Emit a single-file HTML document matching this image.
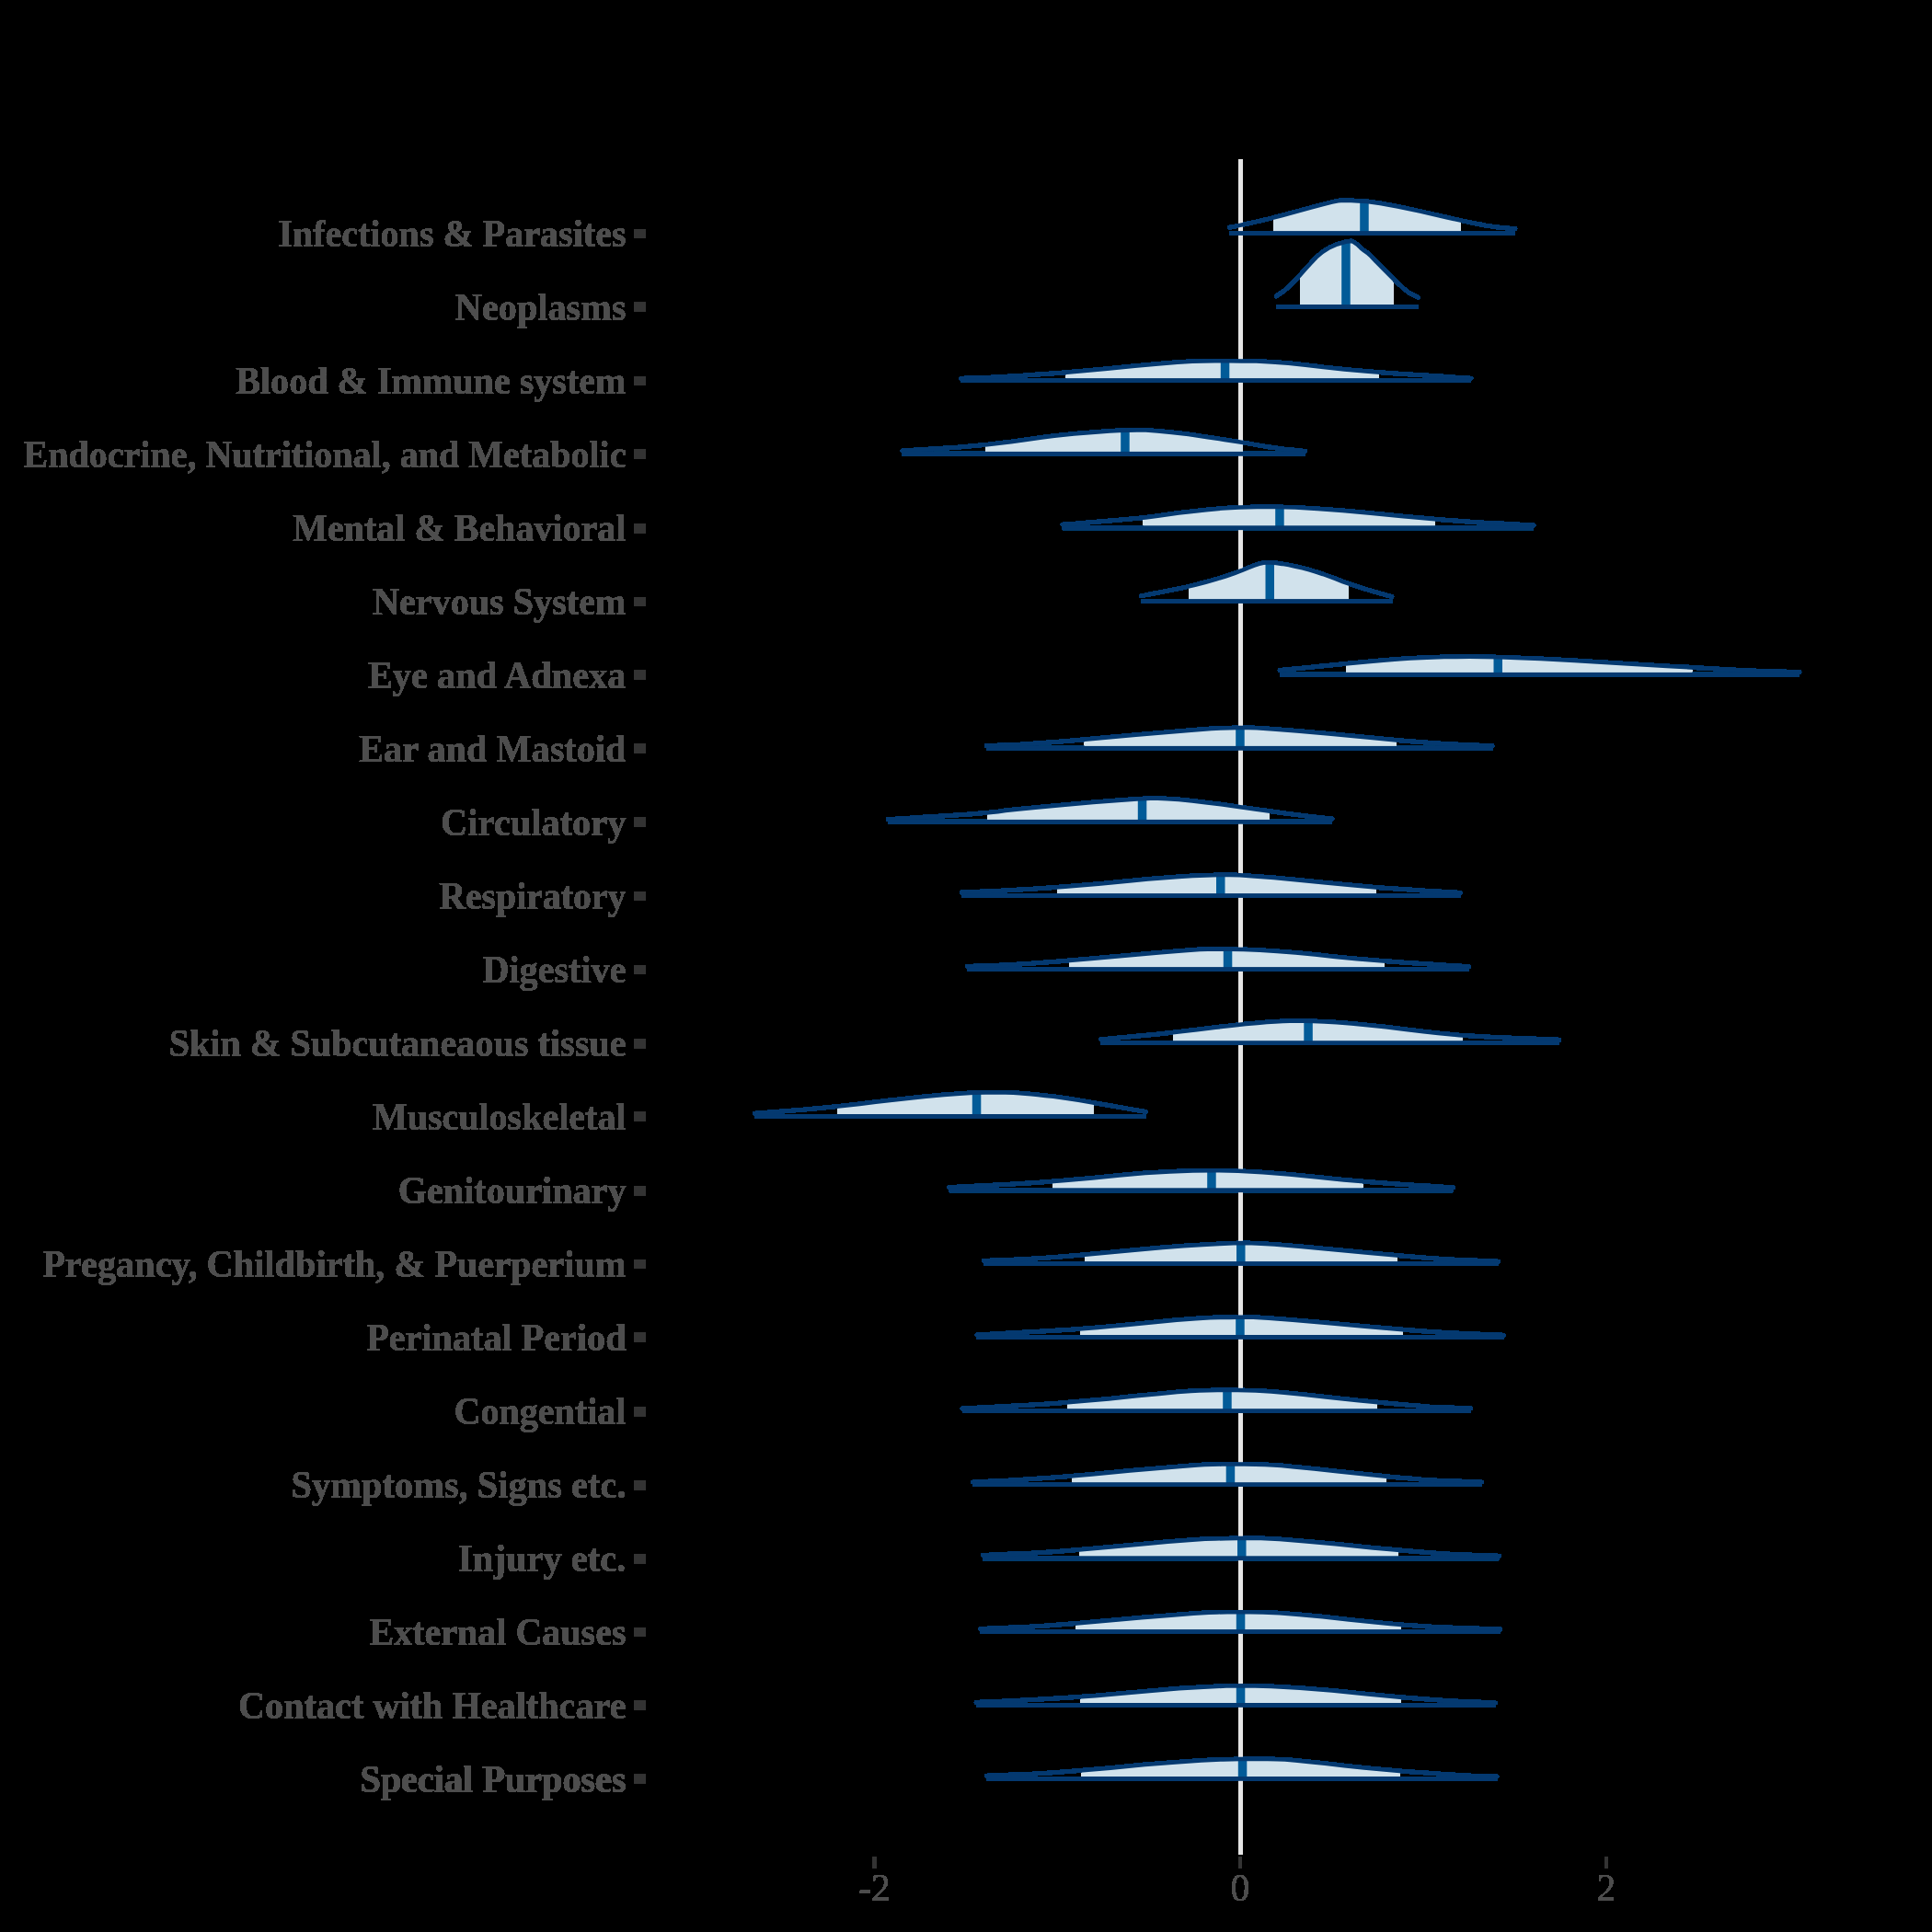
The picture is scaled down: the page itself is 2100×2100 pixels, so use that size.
<!DOCTYPE html>
<html><head><meta charset="utf-8"><style>
html,body{margin:0;padding:0;background:#000;}
svg{display:block;will-change:transform;}
.lab{font-family:"Liberation Serif",serif;font-weight:bold;font-size:41.67px;fill:#4d4d4d;}
.ax{font-family:"Liberation Serif",serif;font-size:41.67px;fill:#4d4d4d;}
</style></head><body>
<svg width="2100" height="2100" viewBox="0 0 2100 2100">
<defs><filter id="hard" x="0" y="0" width="2100" height="2100" filterUnits="userSpaceOnUse" color-interpolation-filters="sRGB"><feComponentTransfer><feFuncA type="discrete" tableValues="0 1 1 1 1 1 1 1 1 1 1 1 1 1 1 1"/></feComponentTransfer></filter></defs>
<rect width="2100" height="2100" fill="#000"/>
<g filter="url(#hard)">
<rect x="1346.1" y="173" width="4.8" height="1843" fill="#e5e5e5"/>
<polygon points="1384,236.6 1393.2,234.3 1408.5,230.2 1424.9,225.6 1438.1,222.1 1447.9,219.6 1454.4,218.3 1457.6,218 1462.4,217.9 1468.7,218.1 1476.5,218.4 1485.9,218.9 1500.2,221 1519.4,224.5 1543.5,229.6 1572.4,236.3 1588,239.6 1588,253.5 1384,253.5" fill="#d1e2ec"/>
<rect x="1478.2" y="218.7" width="9.5" height="34.8" fill="#025b98"/>
<polyline points="1336.4,247.3 1339.4,246.7 1345.3,245.4 1354.2,243.5 1366,240.9 1379,237.9 1393.2,234.3 1408.5,230.2 1424.9,225.6 1438.1,222.1 1447.9,219.6 1454.4,218.3 1457.6,218 1462.4,217.9 1468.7,218.1 1476.5,218.4 1485.9,218.9 1500.2,221 1519.4,224.5 1543.5,229.6 1572.4,236.3 1596.1,241.4 1614.5,245 1627.6,247.1 1635.3,247.8 1641.2,248.2 1645.1,248.5 1647,248.7" fill="none" stroke="#043970" stroke-width="4.5" stroke-linecap="round" stroke-linejoin="round"/>
<rect x="1336" y="251.1" width="311" height="4.8" fill="#043970"/>
<polygon points="1413,299 1418.1,293.2 1424.3,286.4 1430.7,279.6 1437.6,273.8 1445,269.1 1453.4,265.5 1462.7,262.8 1468.9,262 1471.8,263.3 1475.2,265.7 1479.1,269.4 1482.8,272.4 1486.3,274.9 1490.5,278.7 1495.4,283.9 1505.3,293.9 1514.1,302.7 1514.1,333.4 1413,333.4" fill="#d1e2ec"/>
<rect x="1458.2" y="262.7" width="9.5" height="70.7" fill="#025b98"/>
<polyline points="1387.2,321.9 1389.8,320.2 1394.9,316.7 1400.5,312.1 1406.3,306.1 1412.2,299.9 1418.1,293.2 1424.3,286.4 1430.7,279.6 1437.6,273.8 1445,269.1 1453.4,265.5 1462.7,262.8 1468.9,262 1471.8,263.3 1475.2,265.7 1479.1,269.4 1482.8,272.4 1486.3,274.9 1490.5,278.7 1495.4,283.9 1505.3,293.9 1520,308.6 1531,317.9 1538,321.5 1541.6,323.4" fill="none" stroke="#043970" stroke-width="4.5" stroke-linecap="round" stroke-linejoin="round"/>
<rect x="1387" y="331" width="155" height="4.8" fill="#043970"/>
<polygon points="1158.9,404.7 1176.2,403.2 1203.7,400.7 1233.6,397.8 1258.9,395.5 1279.7,393.8 1295.9,392.8 1307.5,392.5 1320.3,392.3 1334.3,392.2 1349.3,392.4 1365.6,392.6 1382.6,393.5 1400.4,394.8 1419,396.7 1438.4,399.1 1461.2,401.4 1487.3,403.7 1498.6,404.5 1498.6,413.5 1158.9,413.5" fill="#d1e2ec"/>
<rect x="1326.8" y="392.2" width="9.5" height="21.3" fill="#025b98"/>
<polyline points="1044.8,411.2 1046.8,411.2 1050.8,411.1 1056.7,410.9 1064.7,410.8 1075.8,410.3 1090,409.5 1107.5,408.5 1128,407.1 1150.9,405.4 1176.2,403.2 1203.7,400.7 1233.6,397.8 1258.9,395.5 1279.7,393.8 1295.9,392.8 1307.5,392.5 1320.3,392.3 1334.3,392.2 1349.3,392.4 1365.6,392.6 1382.6,393.5 1400.4,394.8 1419,396.7 1438.4,399.1 1461.2,401.4 1487.3,403.7 1516.8,405.9 1549.7,408 1574.3,409.6 1590.8,410.7 1599,411.2" fill="none" stroke="#043970" stroke-width="4.5" stroke-linecap="round" stroke-linejoin="round"/>
<rect x="1044.8" y="411.1" width="553.9" height="4.8" fill="#043970"/>
<polygon points="1071,483.5 1079.6,482.6 1098.7,480.3 1116.5,477.7 1132.3,475.5 1146,473.8 1157.8,472.4 1167.4,471.6 1177.2,470.7 1186.9,469.9 1196.6,469.2 1206.3,468.6 1216.1,468.1 1225.9,467.8 1235.7,467.6 1245.5,467.6 1258.2,468.4 1273.6,469.9 1291.8,472.1 1312.9,475.2 1331.1,477.9 1346.4,480.3 1350.9,481 1350.9,493.3 1071,493.3" fill="#d1e2ec"/>
<rect x="1218.2" y="467.9" width="9.5" height="25.4" fill="#025b98"/>
<polyline points="980.8,490 986.5,489.6 997.9,488.9 1015,487.8 1037.8,486.4 1059.4,484.6 1079.6,482.6 1098.7,480.3 1116.5,477.7 1132.3,475.5 1146,473.8 1157.8,472.4 1167.4,471.6 1177.2,470.7 1186.9,469.9 1196.6,469.2 1206.3,468.6 1216.1,468.1 1225.9,467.8 1235.7,467.6 1245.5,467.6 1258.2,468.4 1273.6,469.9 1291.8,472.1 1312.9,475.2 1331.1,477.9 1346.4,480.3 1359,482.4 1368.7,484.1 1378.2,485.7 1387.5,487 1396.5,488.2 1405.5,489 1412.1,489.7 1416.6,490.2 1418.8,490.4" fill="none" stroke="#043970" stroke-width="4.5" stroke-linecap="round" stroke-linejoin="round"/>
<rect x="980.8" y="490.9" width="438" height="4.8" fill="#043970"/>
<polygon points="1242.8,562.7 1245.2,562.5 1258.5,560.8 1269,559.3 1281.2,557.6 1295.2,556 1310.9,554.3 1328.4,552.5 1346.8,551.4 1366.2,550.9 1386.6,550.9 1407.9,551.6 1432.2,553 1459.5,555 1489.7,557.7 1522.9,561 1553.7,563.8 1559.8,564.3 1559.8,573.7 1242.8,573.7" fill="#d1e2ec"/>
<rect x="1386.2" y="551.1" width="9.5" height="22.6" fill="#025b98"/>
<polyline points="1155,570.2 1160.5,569.8 1171.5,568.9 1187.9,567.6 1209.9,565.8 1229,564.1 1245.2,562.5 1258.5,560.8 1269,559.3 1281.2,557.6 1295.2,556 1310.9,554.3 1328.4,552.5 1346.8,551.4 1366.2,550.9 1386.6,550.9 1407.9,551.6 1432.2,553 1459.5,555 1489.7,557.7 1522.9,561 1553.7,563.8 1582.1,566.1 1608.1,567.9 1631.6,569.1 1649.3,570.1 1661.1,570.7 1667,571" fill="none" stroke="#043970" stroke-width="4.5" stroke-linecap="round" stroke-linejoin="round"/>
<rect x="1154.8" y="571.3" width="512.2" height="4.8" fill="#043970"/>
<polygon points="1292.2,637.3 1299,635.7 1310.6,632.7 1321.7,629.6 1331.8,626.5 1341.1,623.3 1349.4,620.2 1356.7,617.1 1363.2,614.6 1368.7,612.9 1373.3,611.8 1377,611.5 1381.6,611.5 1387.1,612 1393.6,612.9 1400.9,614.1 1408.3,615.7 1415.7,617.4 1423.1,619.4 1430.4,621.6 1437.8,624 1445.2,626.6 1452.6,629.3 1459.9,632.3 1465.9,634.4 1465.9,653.5 1292.2,653.5" fill="#d1e2ec"/>
<rect x="1375.5" y="611.5" width="9.5" height="42" fill="#025b98"/>
<polyline points="1240.5,647.8 1243.8,647.1 1250.5,645.8 1260.6,643.9 1273.9,641.3 1286.7,638.6 1299,635.7 1310.6,632.7 1321.7,629.6 1331.8,626.5 1341.1,623.3 1349.4,620.2 1356.7,617.1 1363.2,614.6 1368.7,612.9 1373.3,611.8 1377,611.5 1381.6,611.5 1387.1,612 1393.6,612.9 1400.9,614.1 1408.3,615.7 1415.7,617.4 1423.1,619.4 1430.4,621.6 1437.8,624 1445.2,626.6 1452.6,629.3 1459.9,632.3 1468.1,635.2 1477,638.2 1486.8,641.1 1497.2,644.1 1505.1,646.3 1510.4,647.8 1513,648.5" fill="none" stroke="#043970" stroke-width="4.5" stroke-linecap="round" stroke-linejoin="round"/>
<rect x="1240.9" y="651.1" width="272.2" height="4.8" fill="#043970"/>
<polygon points="1463,721.4 1486.5,719.2 1506.4,717.4 1522,716.2 1533.2,715.5 1544.9,714.9 1557.1,714.5 1569.8,714.1 1583,713.9 1597.3,713.8 1612.9,714 1629.7,714.3 1647.7,714.9 1674.9,716.1 1711.3,718 1756.9,720.7 1811.8,723.9 1839.1,725.5 1839.1,733.3 1463,733.3" fill="#d1e2ec"/>
<rect x="1623.5" y="714.3" width="9.5" height="19" fill="#025b98"/>
<polyline points="1391,728.5 1398.1,727.8 1412.4,726.4 1433.8,724.3 1462.3,721.4 1486.5,719.2 1506.4,717.4 1522,716.2 1533.2,715.5 1544.9,714.9 1557.1,714.5 1569.8,714.1 1583,713.9 1597.3,713.8 1612.9,714 1629.7,714.3 1647.7,714.9 1674.9,716.1 1711.3,718 1756.9,720.7 1811.8,723.9 1856.8,726.5 1891.9,728.4 1917.2,729.5 1932.8,729.9 1944.4,730.2 1952.1,730.4 1956,730.5" fill="none" stroke="#043970" stroke-width="4.5" stroke-linecap="round" stroke-linejoin="round"/>
<rect x="1391" y="730.9" width="565" height="4.8" fill="#043970"/>
<polygon points="1178.9,803.8 1190.4,802.8 1234.6,798.8 1270.4,795.7 1297.7,793.4 1316.5,792 1326.8,791.5 1336.9,791.2 1346.9,791.1 1356.6,791.1 1366.2,791.2 1383.9,792.4 1409.9,794.5 1444.1,797.6 1486.5,801.6 1517.9,804.4 1517.9,813.3 1178.9,813.3" fill="#d1e2ec"/>
<rect x="1343.2" y="791.1" width="9.5" height="22.2" fill="#025b98"/>
<polyline points="1072.4,810.5 1075.6,810.4 1082.1,810.2 1091.8,809.9 1104.7,809.4 1125.4,808.1 1154,805.9 1190.4,802.8 1234.6,798.8 1270.4,795.7 1297.7,793.4 1316.5,792 1326.8,791.5 1336.9,791.2 1346.9,791.1 1356.6,791.1 1366.2,791.2 1383.9,792.4 1409.9,794.5 1444.1,797.6 1486.5,801.6 1522.8,804.9 1553,807.3 1577.1,808.9 1595.2,809.6 1608.7,810.2 1617.7,810.6 1622.2,810.8" fill="none" stroke="#043970" stroke-width="4.5" stroke-linecap="round" stroke-linejoin="round"/>
<rect x="1072.4" y="810.9" width="549.8" height="4.8" fill="#043970"/>
<polygon points="1073.3,883.4 1084.6,882.3 1092.8,881.1 1107.3,879.5 1128,877.5 1155,875 1188.2,872.1 1215.2,869.9 1235.9,868.4 1250.4,867.7 1258.6,867.7 1268.9,868.2 1281.3,869.1 1295.8,870.6 1312.2,872.5 1329.2,874.6 1346.5,876.9 1364.2,879.4 1379.9,881.7 1379.9,893.3 1073.3,893.3" fill="#d1e2ec"/>
<rect x="1236.8" y="868.1" width="9.5" height="25.2" fill="#025b98"/>
<polyline points="965.3,890.6 972,890.2 985.3,889.4 1005.4,888.1 1032.1,886.5 1054.2,884.9 1071.7,883.6 1084.6,882.3 1092.8,881.1 1107.3,879.5 1128,877.5 1155,875 1188.2,872.1 1215.2,869.9 1235.9,868.4 1250.4,867.7 1258.6,867.7 1268.9,868.2 1281.3,869.1 1295.8,870.6 1312.2,872.5 1329.2,874.6 1346.5,876.9 1364.2,879.4 1382.4,882 1398.4,884.3 1412.3,886.1 1424,887.5 1433.6,888.4 1440.8,889.2 1445.6,889.7 1448,889.9" fill="none" stroke="#043970" stroke-width="4.5" stroke-linecap="round" stroke-linejoin="round"/>
<rect x="965.3" y="890.9" width="482.6" height="4.8" fill="#043970"/>
<polygon points="1149,964.4 1157.8,963.8 1175.9,962.3 1194,960.8 1212.1,959.1 1230.2,957.2 1247.7,955.6 1264.6,954.2 1280.9,953 1296.5,952.1 1311,951.4 1324.5,951.1 1336.7,951.1 1347.9,951.3 1363.9,952.4 1384.8,954.1 1410.5,956.5 1441.1,959.6 1470.3,962.3 1495.9,964.5 1495.9,973.5 1149,973.5" fill="#d1e2ec"/>
<rect x="1322" y="951.1" width="9.5" height="22.4" fill="#025b98"/>
<polyline points="1045.1,970 1049.3,969.8 1057.7,969.5 1070.4,968.9 1087.2,968.2 1104.4,967.3 1121.9,966.3 1139.7,965.1 1157.8,963.8 1175.9,962.3 1194,960.8 1212.1,959.1 1230.2,957.2 1247.7,955.6 1264.6,954.2 1280.9,953 1296.5,952.1 1311,951.4 1324.5,951.1 1336.7,951.1 1347.9,951.3 1363.9,952.4 1384.8,954.1 1410.5,956.5 1441.1,959.6 1470.3,962.3 1498.2,964.7 1524.6,966.6 1549.7,968.2 1568.5,969.3 1581,970.1 1587.3,970.5" fill="none" stroke="#043970" stroke-width="4.5" stroke-linecap="round" stroke-linejoin="round"/>
<rect x="1045.1" y="971.1" width="542.2" height="4.8" fill="#043970"/>
<polygon points="1162.1,1044 1186.3,1042 1228.4,1038.2 1262,1035.3 1287.2,1033.3 1304,1032.1 1312.4,1031.7 1323.1,1031.6 1336.2,1031.8 1351.7,1032.1 1369.4,1032.8 1388.3,1033.9 1408.2,1035.4 1429.3,1037.4 1451.4,1039.9 1475,1042.2 1500.1,1044.3 1505,1044.7 1505,1053.5 1162.1,1053.5" fill="#d1e2ec"/>
<rect x="1329.8" y="1031.7" width="9.5" height="21.8" fill="#025b98"/>
<polyline points="1051.5,1050.5 1056,1050.3 1065,1050 1078.4,1049.4 1096.4,1048.7 1120.3,1047.2 1150.3,1045 1186.3,1042 1228.4,1038.2 1262,1035.3 1287.2,1033.3 1304,1032.1 1312.4,1031.7 1323.1,1031.6 1336.2,1031.8 1351.7,1032.1 1369.4,1032.8 1388.3,1033.9 1408.2,1035.4 1429.3,1037.4 1451.4,1039.9 1475,1042.2 1500.1,1044.3 1526.6,1046.3 1554.7,1048.1 1575.7,1049.5 1589.7,1050.3 1596.7,1050.8" fill="none" stroke="#043970" stroke-width="4.5" stroke-linecap="round" stroke-linejoin="round"/>
<rect x="1051.5" y="1051.1" width="545.2" height="4.8" fill="#043970"/>
<polygon points="1275,1122.3 1281.2,1121.6 1301,1119.3 1321.2,1116.8 1338.9,1114.7 1354,1113.1 1366.7,1111.9 1376.8,1111.1 1386,1110.5 1394.4,1110.1 1402,1109.8 1408.7,1109.8 1417.2,1109.8 1427.4,1110.1 1439.3,1110.6 1453,1111.3 1468.8,1112.5 1486.6,1114.2 1506.4,1116.3 1528.3,1119 1547.2,1121.3 1563.2,1123 1576.2,1124.3 1586.4,1125.2 1589.8,1125.4 1589.8,1133.6 1275,1133.6" fill="#d1e2ec"/>
<rect x="1417.3" y="1110" width="9.5" height="23.6" fill="#025b98"/>
<polyline points="1196.7,1129.8 1201.3,1129.4 1210.6,1128.5 1224.5,1127.3 1243,1125.6 1261.9,1123.7 1281.2,1121.6 1301,1119.3 1321.2,1116.8 1338.9,1114.7 1354,1113.1 1366.7,1111.9 1376.8,1111.1 1386,1110.5 1394.4,1110.1 1402,1109.8 1408.7,1109.8 1417.2,1109.8 1427.4,1110.1 1439.3,1110.6 1453,1111.3 1468.8,1112.5 1486.6,1114.2 1506.4,1116.3 1528.3,1119 1547.2,1121.3 1563.2,1123 1576.2,1124.3 1586.4,1125.2 1599.8,1126 1616.5,1126.9 1636.5,1127.9 1659.8,1128.8 1677.3,1129.6 1689,1130.1 1694.8,1130.3" fill="none" stroke="#043970" stroke-width="4.5" stroke-linecap="round" stroke-linejoin="round"/>
<rect x="1196.7" y="1131.2" width="498.1" height="4.8" fill="#043970"/>
<polygon points="910.3,1202.7 915.8,1202.1 934.4,1200 951.8,1197.8 969.7,1195.7 988,1193.7 1006.7,1191.8 1025.8,1190 1043,1188.7 1058.2,1187.8 1071.5,1187.4 1082.9,1187.4 1092.8,1187.5 1101.4,1187.8 1108.6,1188.2 1114.5,1188.7 1121,1189.3 1128.3,1190 1136.3,1190.9 1145,1191.8 1157,1193.5 1172.3,1195.9 1189,1198.7 1189,1213.4 910.3,1213.4" fill="#d1e2ec"/>
<rect x="1056.8" y="1187.7" width="9.5" height="25.7" fill="#025b98"/>
<polyline points="820.2,1210.2 825.7,1209.8 836.7,1208.9 853.2,1207.7 875.2,1206 896.1,1204.1 915.8,1202.1 934.4,1200 951.8,1197.8 969.7,1195.7 988,1193.7 1006.7,1191.8 1025.8,1190 1043,1188.7 1058.2,1187.8 1071.5,1187.4 1082.9,1187.4 1092.8,1187.5 1101.4,1187.8 1108.6,1188.2 1114.5,1188.7 1121,1189.3 1128.3,1190 1136.3,1190.9 1145,1191.8 1157,1193.5 1172.3,1195.9 1190.8,1199 1212.7,1202.7 1229,1205.6 1239.9,1207.5 1245.4,1208.4" fill="none" stroke="#043970" stroke-width="4.5" stroke-linecap="round" stroke-linejoin="round"/>
<rect x="820.2" y="1211" width="425.2" height="4.8" fill="#043970"/>
<polygon points="1144.2,1284.2 1158.2,1283.1 1187.2,1280.5 1216.8,1277.4 1244.8,1275 1271.5,1273.4 1296.7,1272.4 1320.4,1272.2 1345.8,1272.8 1372.8,1274.2 1401.4,1276.5 1431.7,1279.6 1460.7,1282.4 1481.1,1284.1 1481.1,1293.7 1144.2,1293.7" fill="#d1e2ec"/>
<rect x="1312.2" y="1272.2" width="9.5" height="21.5" fill="#025b98"/>
<polyline points="1031.6,1290.5 1038.6,1290.2 1052.5,1289.5 1073.4,1288.5 1101.2,1287.1 1129.5,1285.3 1158.2,1283.1 1187.2,1280.5 1216.8,1277.4 1244.8,1275 1271.5,1273.4 1296.7,1272.4 1320.4,1272.2 1345.8,1272.8 1372.8,1274.2 1401.4,1276.5 1431.7,1279.6 1460.7,1282.4 1488.7,1284.7 1515.4,1286.7 1541.1,1288.4 1560.3,1289.6 1573.1,1290.4 1579.5,1290.8" fill="none" stroke="#043970" stroke-width="4.5" stroke-linecap="round" stroke-linejoin="round"/>
<rect x="1031.6" y="1291.3" width="547.9" height="4.8" fill="#043970"/>
<polygon points="1179,1363.8 1182.2,1363.5 1211.6,1360.7 1238.8,1358.2 1263.8,1356.1 1286.5,1354.3 1307,1352.9 1325.2,1351.9 1341.1,1351.3 1354.7,1351.1 1365.9,1351.4 1385,1352.6 1412,1354.7 1446.9,1357.9 1489.7,1362 1518.7,1364.6 1518.7,1373.5 1179,1373.5" fill="#d1e2ec"/>
<rect x="1344" y="1351.2" width="9.5" height="22.3" fill="#025b98"/>
<polyline points="1069.5,1370.5 1073.8,1370.3 1082.3,1370 1095.2,1369.5 1112.3,1368.8 1132.5,1367.6 1155.8,1365.8 1182.2,1363.5 1211.6,1360.7 1238.8,1358.2 1263.8,1356.1 1286.5,1354.3 1307,1352.9 1325.2,1351.9 1341.1,1351.3 1354.7,1351.1 1365.9,1351.4 1385,1352.6 1412,1354.7 1446.9,1357.9 1489.7,1362 1526.4,1365.3 1557.1,1367.7 1581.8,1369.3 1600.5,1370.1 1614.6,1370.6 1623.9,1371 1628.6,1371.2" fill="none" stroke="#043970" stroke-width="4.5" stroke-linecap="round" stroke-linejoin="round"/>
<rect x="1069.5" y="1371.1" width="559.1" height="4.8" fill="#043970"/>
<polygon points="1174.1,1444.3 1192.9,1442.9 1223,1440.2 1253.5,1437.2 1279.1,1434.8 1299.7,1433.2 1315.3,1432.3 1326,1432 1336.1,1431.9 1345.4,1431.8 1354.1,1431.7 1362.2,1431.8 1379.1,1432.8 1405.1,1434.8 1440,1437.8 1483.8,1441.8 1522,1445 1524.8,1445.2 1524.8,1453.4 1174.1,1453.4" fill="#d1e2ec"/>
<rect x="1343.2" y="1431.8" width="9.5" height="21.6" fill="#025b98"/>
<polyline points="1061.9,1450.9 1069.1,1450.5 1083.5,1449.8 1105.1,1448.6 1134,1447.1 1163.2,1445.2 1192.9,1442.9 1223,1440.2 1253.5,1437.2 1279.1,1434.8 1299.7,1433.2 1315.3,1432.3 1326,1432 1336.1,1431.9 1345.4,1431.8 1354.1,1431.7 1362.2,1431.8 1379.1,1432.8 1405.1,1434.8 1440,1437.8 1483.8,1441.8 1522,1445 1554.5,1447.5 1581.4,1449.1 1602.5,1450 1618.4,1450.6 1629,1451.1 1634.3,1451.3" fill="none" stroke="#043970" stroke-width="4.5" stroke-linecap="round" stroke-linejoin="round"/>
<rect x="1061.9" y="1451" width="572.4" height="4.8" fill="#043970"/>
<polygon points="1160.1,1524.3 1175.5,1523.1 1205.1,1520.4 1235.2,1517.3 1260,1514.9 1279.7,1513.1 1294.3,1512 1303.6,1511.6 1313.4,1511.2 1323.5,1511.1 1334,1511 1345,1511 1355.2,1511.2 1364.7,1511.5 1373.5,1511.9 1381.6,1512.5 1396,1513.8 1416.6,1515.8 1443.6,1518.7 1476.7,1522.2 1497,1524.2 1497,1533.6 1160.1,1533.6" fill="#d1e2ec"/>
<rect x="1329.2" y="1511" width="9.5" height="22.6" fill="#025b98"/>
<polyline points="1046,1531 1053.1,1530.6 1067.4,1529.9 1088.8,1528.8 1117.3,1527.2 1146.2,1525.4 1175.5,1523.1 1205.1,1520.4 1235.2,1517.3 1260,1514.9 1279.7,1513.1 1294.3,1512 1303.6,1511.6 1313.4,1511.2 1323.5,1511.1 1334,1511 1345,1511 1355.2,1511.2 1364.7,1511.5 1373.5,1511.9 1381.6,1512.5 1396,1513.8 1416.6,1515.8 1443.6,1518.7 1476.7,1522.2 1506.1,1525.1 1531.8,1527.3 1553.6,1528.9 1571.7,1529.7 1585.2,1530.4 1594.3,1530.8 1598.8,1531" fill="none" stroke="#043970" stroke-width="4.5" stroke-linecap="round" stroke-linejoin="round"/>
<rect x="1046" y="1531.2" width="552.8" height="4.8" fill="#043970"/>
<polygon points="1165.3,1604.2 1187,1602.4 1228.3,1598.6 1261.1,1595.7 1285.5,1593.7 1301.5,1592.4 1309,1592.1 1317.8,1591.8 1328,1591.6 1339.6,1591.5 1352.6,1591.5 1364.4,1591.7 1375,1591.9 1384.4,1592.4 1392.7,1593 1407.3,1594.4 1428.4,1596.5 1455.8,1599.4 1489.5,1603 1506.8,1604.7 1506.8,1613.6 1165.3,1613.6" fill="#d1e2ec"/>
<rect x="1332.7" y="1591.5" width="9.5" height="22.1" fill="#025b98"/>
<polyline points="1057.5,1611 1061.7,1610.8 1070.2,1610.4 1082.8,1609.9 1099.8,1609.1 1122.7,1607.6 1151.8,1605.4 1187,1602.4 1228.3,1598.6 1261.1,1595.7 1285.5,1593.7 1301.5,1592.4 1309,1592.1 1317.8,1591.8 1328,1591.6 1339.6,1591.5 1352.6,1591.5 1364.4,1591.7 1375,1591.9 1384.4,1592.4 1392.7,1593 1407.3,1594.4 1428.4,1596.5 1455.8,1599.4 1489.5,1603 1519.3,1605.9 1545,1608.1 1566.6,1609.4 1584.3,1610.1 1597.5,1610.5 1606.3,1610.8 1610.7,1611" fill="none" stroke="#043970" stroke-width="4.5" stroke-linecap="round" stroke-linejoin="round"/>
<rect x="1057.5" y="1611.2" width="553.2" height="4.8" fill="#043970"/>
<polygon points="1173.1,1684.5 1204.5,1681.8 1240,1678.4 1269.3,1675.8 1292.6,1674 1309.9,1672.8 1321,1672.5 1332.7,1672.2 1344.9,1672 1357.5,1672 1370.7,1672 1390.8,1673.1 1417.8,1675.2 1451.7,1678.2 1492.5,1682.4 1519.9,1684.9 1519.9,1693.7 1173.1,1693.7" fill="#d1e2ec"/>
<rect x="1345" y="1672" width="9.5" height="21.7" fill="#025b98"/>
<polyline points="1068.3,1690.5 1073.5,1690.3 1083.9,1689.8 1099.5,1689.1 1120.2,1688.2 1144.7,1686.7 1172.8,1684.5 1204.5,1681.8 1240,1678.4 1269.3,1675.8 1292.6,1674 1309.9,1672.8 1321,1672.5 1332.7,1672.2 1344.9,1672 1357.5,1672 1370.7,1672 1390.8,1673.1 1417.8,1675.2 1451.7,1678.2 1492.5,1682.4 1527.9,1685.6 1557.8,1688 1582.1,1689.6 1601.1,1690.2 1615.2,1690.8 1624.7,1691.1 1629.4,1691.3" fill="none" stroke="#043970" stroke-width="4.5" stroke-linecap="round" stroke-linejoin="round"/>
<rect x="1068.3" y="1691.3" width="561.1" height="4.8" fill="#043970"/>
<polygon points="1169.8,1764.5 1201.5,1761.8 1240.8,1758.3 1272.7,1755.7 1297.1,1753.8 1314,1752.7 1323.4,1752.4 1334,1752.3 1345.8,1752.2 1358.8,1752.3 1372.9,1752.4 1390.7,1753.3 1412.2,1755 1437.4,1757.3 1466.3,1760.4 1490.9,1762.9 1511.2,1764.9 1522.8,1765.9 1522.8,1773.5 1169.8,1773.5" fill="#d1e2ec"/>
<rect x="1343.8" y="1752.2" width="9.5" height="21.3" fill="#025b98"/>
<polyline points="1065.6,1770.6 1070.4,1770.4 1080,1769.9 1094.5,1769.3 1113.7,1768.4 1138,1766.9 1167.3,1764.7 1201.5,1761.8 1240.8,1758.3 1272.7,1755.7 1297.1,1753.8 1314,1752.7 1323.4,1752.4 1334,1752.3 1345.8,1752.2 1358.8,1752.3 1372.9,1752.4 1390.7,1753.3 1412.2,1755 1437.4,1757.3 1466.3,1760.4 1490.9,1762.9 1511.2,1764.9 1527.1,1766.3 1538.6,1767.1 1552,1767.9 1567.1,1768.7 1584.1,1769.4 1602.7,1770.1 1616.8,1770.6 1626.1,1770.9 1630.8,1771.1" fill="none" stroke="#043970" stroke-width="4.5" stroke-linecap="round" stroke-linejoin="round"/>
<rect x="1065.6" y="1771.1" width="565.2" height="4.8" fill="#043970"/>
<polygon points="1174.9,1844.3 1190.5,1843.2 1221,1840.6 1252.3,1837.7 1281.4,1835.3 1308.3,1833.7 1332.9,1832.6 1355.3,1832.3 1381.9,1833 1412.8,1834.7 1447.8,1837.6 1487.2,1841.5 1521.6,1844.7 1522.5,1844.8 1522.5,1853.4 1174.9,1853.4" fill="#d1e2ec"/>
<rect x="1343.8" y="1832.4" width="9.5" height="21" fill="#025b98"/>
<polyline points="1061.1,1850.4 1068.2,1850.1 1082.3,1849.4 1103.5,1848.4 1131.7,1847.1 1160.7,1845.3 1190.5,1843.2 1221,1840.6 1252.3,1837.7 1281.4,1835.3 1308.3,1833.7 1332.9,1832.6 1355.3,1832.3 1381.9,1833 1412.8,1834.7 1447.8,1837.6 1487.2,1841.5 1521.6,1844.7 1551.2,1847.1 1575.9,1848.8 1595.7,1849.6 1610.6,1850.3 1620.5,1850.8 1625.5,1851" fill="none" stroke="#043970" stroke-width="4.5" stroke-linecap="round" stroke-linejoin="round"/>
<rect x="1061.1" y="1851" width="564.4" height="4.8" fill="#043970"/>
<polygon points="1175.9,1924.4 1207,1921.7 1244.6,1918.1 1277.5,1915.4 1305.8,1913.5 1329.3,1912.4 1348.2,1912.1 1364.4,1912 1377.9,1912.1 1388.6,1912.3 1396.7,1912.6 1407.9,1913.5 1422.4,1914.9 1440.2,1916.8 1461.2,1919.2 1482.7,1921.4 1504.6,1923.5 1521.7,1924.9 1521.7,1933.4 1175.9,1933.4" fill="#d1e2ec"/>
<rect x="1345.8" y="1912.1" width="9.5" height="21.3" fill="#025b98"/>
<polyline points="1072.4,1930.2 1077.3,1930 1087.1,1929.6 1101.7,1929 1121.3,1928.2 1145.3,1926.7 1173.9,1924.5 1207,1921.7 1244.6,1918.1 1277.5,1915.4 1305.8,1913.5 1329.3,1912.4 1348.2,1912.1 1364.4,1912 1377.9,1912.1 1388.6,1912.3 1396.7,1912.6 1407.9,1913.5 1422.4,1914.9 1440.2,1916.8 1461.2,1919.2 1482.7,1921.4 1504.6,1923.5 1527,1925.4 1550,1927.1 1569.8,1928.5 1586.6,1929.5 1600.3,1930.2 1611,1930.5 1619.1,1930.8 1624.4,1930.9 1627.1,1931" fill="none" stroke="#043970" stroke-width="4.5" stroke-linecap="round" stroke-linejoin="round"/>
<rect x="1072.4" y="1931" width="554.7" height="4.8" fill="#043970"/>
<text x="0" y="268" text-anchor="end" class="lab" transform="translate(680.5,0) scale(0.9609,1)">Infections &amp; Parasites</text>
<rect x="689" y="249" width="13" height="10" fill="#333333"/>
<text x="0" y="347.9" text-anchor="end" class="lab" transform="translate(680.5,0) scale(0.9665,1)">Neoplasms</text>
<rect x="689" y="328.9" width="13" height="10" fill="#333333"/>
<text x="0" y="428" text-anchor="end" class="lab" transform="translate(680.5,0) scale(0.9626,1)">Blood &amp; Immune system</text>
<rect x="689" y="409" width="13" height="10" fill="#333333"/>
<text x="0" y="507.8" text-anchor="end" class="lab" transform="translate(680.5,0) scale(0.9609,1)">Endocrine, Nutritional, and Metabolic</text>
<rect x="689" y="488.8" width="13" height="10" fill="#333333"/>
<text x="0" y="588.2" text-anchor="end" class="lab" transform="translate(680.5,0) scale(0.9607,1)">Mental &amp; Behavioral</text>
<rect x="689" y="569.2" width="13" height="10" fill="#333333"/>
<text x="0" y="668" text-anchor="end" class="lab" transform="translate(680.5,0) scale(0.9642,1)">Nervous System</text>
<rect x="689" y="649" width="13" height="10" fill="#333333"/>
<text x="0" y="747.8" text-anchor="end" class="lab" transform="translate(680.5,0) scale(0.9698,1)">Eye and Adnexa</text>
<rect x="689" y="728.8" width="13" height="10" fill="#333333"/>
<text x="0" y="827.8" text-anchor="end" class="lab" transform="translate(680.5,0) scale(0.9673,1)">Ear and Mastoid</text>
<rect x="689" y="808.8" width="13" height="10" fill="#333333"/>
<text x="0" y="907.8" text-anchor="end" class="lab" transform="translate(680.5,0) scale(0.9709,1)">Circulatory</text>
<rect x="689" y="888.8" width="13" height="10" fill="#333333"/>
<text x="0" y="988" text-anchor="end" class="lab" transform="translate(680.5,0) scale(0.9552,1)">Respiratory</text>
<rect x="689" y="969" width="13" height="10" fill="#333333"/>
<text x="0" y="1068" text-anchor="end" class="lab" transform="translate(680.5,0) scale(0.9641,1)">Digestive</text>
<rect x="689" y="1049" width="13" height="10" fill="#333333"/>
<text x="0" y="1148.1" text-anchor="end" class="lab" transform="translate(680.5,0) scale(0.9646,1)">Skin &amp; Subcutaneaous tissue</text>
<rect x="689" y="1129.1" width="13" height="10" fill="#333333"/>
<text x="0" y="1227.9" text-anchor="end" class="lab" transform="translate(680.5,0) scale(0.9604,1)">Musculoskeletal</text>
<rect x="689" y="1208.9" width="13" height="10" fill="#333333"/>
<text x="0" y="1308.2" text-anchor="end" class="lab" transform="translate(680.5,0) scale(0.9644,1)">Genitourinary</text>
<rect x="689" y="1289.2" width="13" height="10" fill="#333333"/>
<text x="0" y="1388" text-anchor="end" class="lab" transform="translate(680.5,0) scale(0.9677,1)">Pregancy, Childbirth, &amp; Puerperium</text>
<rect x="689" y="1369" width="13" height="10" fill="#333333"/>
<text x="0" y="1467.9" text-anchor="end" class="lab" transform="translate(680.5,0) scale(0.9643,1)">Perinatal Period</text>
<rect x="689" y="1448.9" width="13" height="10" fill="#333333"/>
<text x="0" y="1548.1" text-anchor="end" class="lab" transform="translate(680.5,0) scale(0.9613,1)">Congential</text>
<rect x="689" y="1529.1" width="13" height="10" fill="#333333"/>
<text x="0" y="1628.1" text-anchor="end" class="lab" transform="translate(680.5,0) scale(0.9706,1)">Symptoms, Signs etc.</text>
<rect x="689" y="1609.1" width="13" height="10" fill="#333333"/>
<text x="0" y="1708.2" text-anchor="end" class="lab" transform="translate(680.5,0) scale(0.9736,1)">Injury etc.</text>
<rect x="689" y="1689.2" width="13" height="10" fill="#333333"/>
<text x="0" y="1788" text-anchor="end" class="lab" transform="translate(680.5,0) scale(0.9598,1)">External Causes</text>
<rect x="689" y="1769" width="13" height="10" fill="#333333"/>
<text x="0" y="1867.9" text-anchor="end" class="lab" transform="translate(680.5,0) scale(0.9655,1)">Contact with Healthcare</text>
<rect x="689" y="1848.9" width="13" height="10" fill="#333333"/>
<text x="0" y="1947.9" text-anchor="end" class="lab" transform="translate(680.5,0) scale(0.9643,1)">Special Purposes</text>
<rect x="689" y="1928.9" width="13" height="10" fill="#333333"/>
<rect x="948.6" y="2018" width="3.7" height="13" fill="#333333"/>
<text x="950.5" y="2066" text-anchor="middle" class="ax">-2</text>
<rect x="1346.2" y="2018" width="3.7" height="13" fill="#333333"/>
<text x="1348" y="2066" text-anchor="middle" class="ax">0</text>
<rect x="1744.2" y="2018" width="3.7" height="13" fill="#333333"/>
<text x="1746" y="2066" text-anchor="middle" class="ax">2</text>
</g>
</svg>
</body></html>
